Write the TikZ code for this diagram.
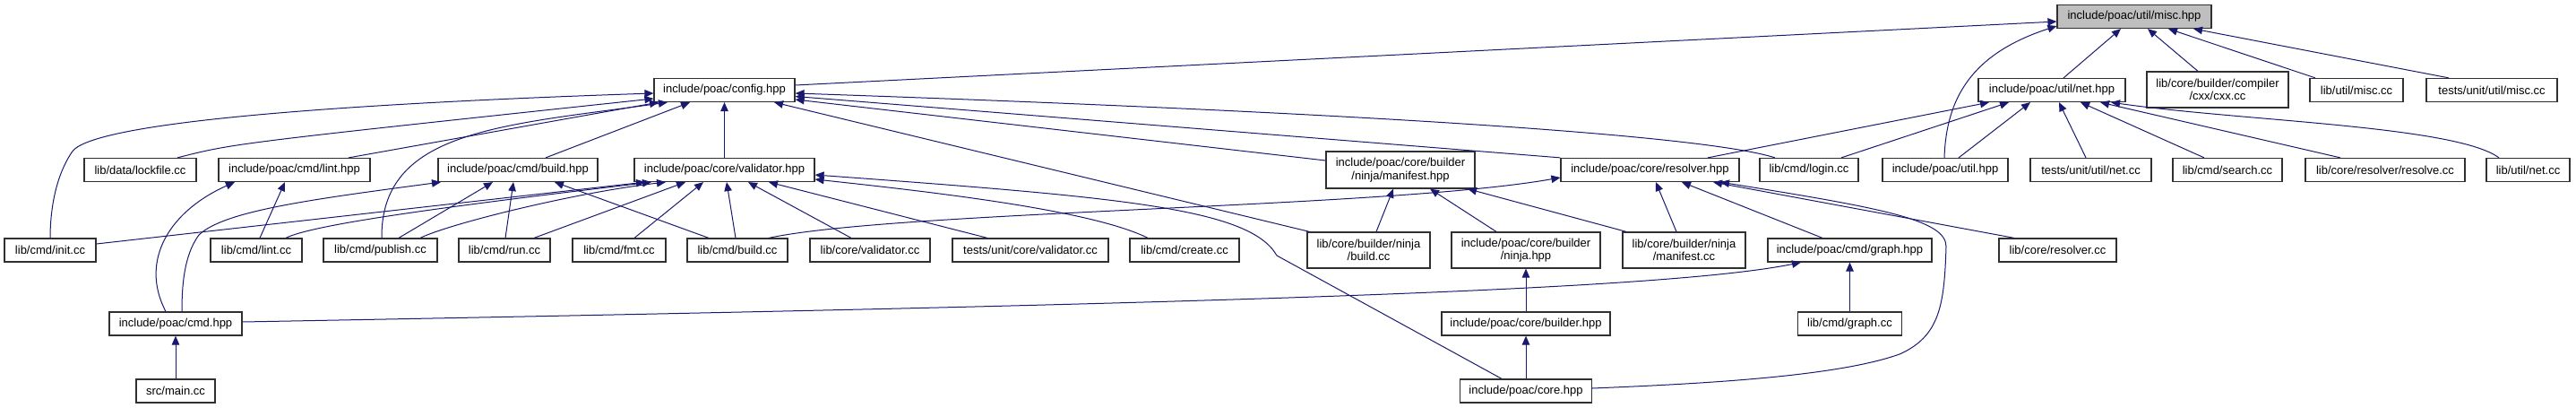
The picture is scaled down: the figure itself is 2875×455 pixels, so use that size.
\documentclass[tikz,border=0pt]{standalone}
\usepackage{fontspec}
\setmainfont{Liberation Sans}
\usetikzlibrary{arrows.meta,calc}
\definecolor{edgeblue}{HTML}{191970}
\definecolor{boxline}{HTML}{303030}
\definecolor{focusgray}{HTML}{BFBFBF}
\begin{document}
\begin{tikzpicture}[x=1pt,y=-1pt,
  box/.style={draw=boxline, line width=1.2pt, fill=white, inner sep=0pt, minimum height=26pt, align=center, font=\fontsize{13}{14.5}\selectfont},
  boxtwo/.style={box, minimum height=40pt},
  edge/.style={draw=edgeblue, line width=1pt, {Triangle[length=10pt,width=8.5pt]}-}]
\useasboundingbox (0,0) rectangle (2875,455);
% row A
\node[box, fill=focusgray, minimum width=172pt] (misc) at (2382,18.5) {include/poac/util/misc.hpp};
% row B
\node[box, minimum width=157pt] (config) at (808.5,100.5) {include/poac/config.hpp};
\node[box, minimum width=164pt] (net) at (2290,100.5) {include/poac/util/net.hpp};
\node[boxtwo, minimum width=158pt] (cxx) at (2475,100) {lib/core/builder/compiler\\/cxx/cxx.cc};
\node[box, minimum width=104pt] (utilmisc) at (2630,100.5) {lib/util/misc.cc};
\node[box, minimum width=146pt] (testmisc) at (2781,100.5) {tests/unit/util/misc.cc};
% row C
\node[box, minimum width=125pt] (lockfile) at (156.5,189.5) {lib/data/lockfile.cc};
\node[box, minimum width=169pt] (linthpp) at (328.5,189.5) {include/poac/cmd/lint.hpp};
\node[box, minimum width=178pt] (buildhpp) at (578,189.5) {include/poac/cmd/build.hpp};
\node[box, minimum width=201pt] (validatorhpp) at (808.5,189.5) {include/poac/core/validator.hpp};
\node[boxtwo, minimum width=166pt, minimum height=41pt] (manifesthpp) at (1563,189.5) {include/poac/core/builder\\/ninja/manifest.hpp};
\node[box, minimum width=199pt] (resolverhpp) at (1841.5,189.5) {include/poac/core/resolver.hpp};
\node[box, minimum width=110pt] (login) at (2019,189.5) {lib/cmd/login.cc};
\node[box, minimum width=140pt] (utilhpp) at (2171,189.5) {include/poac/util.hpp};
\node[box, minimum width=135pt] (testnet) at (2333.5,189.5) {tests/unit/util/net.cc};
\node[box, minimum width=122pt] (search) at (2486,189.5) {lib/cmd/search.cc};
\node[box, minimum width=178pt] (resolve) at (2662,189.5) {lib/core/resolver/resolve.cc};
\node[box, minimum width=93pt] (utilnet) at (2821.5,189.5) {lib/util/net.cc};
% row D
\node[box, minimum width=102pt] (init) at (56,279) {lib/cmd/init.cc};
\node[box, minimum width=102pt] (lintcc) at (286,279) {lib/cmd/lint.cc};
\node[box, minimum width=127pt] (publish) at (424.5,279) {lib/cmd/publish.cc};
\node[box, minimum width=102pt] (runcc) at (563,279) {lib/cmd/run.cc};
\node[box, minimum width=104pt] (fmtcc) at (691,279) {lib/cmd/fmt.cc};
\node[box, minimum width=112pt] (buildcc) at (823,279) {lib/cmd/build.cc};
\node[box, minimum width=134pt] (validatorcc) at (971,279) {lib/core/validator.cc};
\node[box, minimum width=174pt] (testvalidator) at (1150,279) {tests/unit/core/validator.cc};
\node[box, minimum width=122pt] (createcc) at (1322,279) {lib/cmd/create.cc};
\node[boxtwo, minimum width=137pt] (ninjabuildcc) at (1527.5,279) {lib/core/builder/ninja\\/build.cc};
\node[boxtwo, minimum width=166pt] (ninjahpp) at (1703,279) {include/poac/core/builder\\/ninja.hpp};
\node[boxtwo, minimum width=137pt] (ninjamanifestcc) at (1879.5,279) {lib/core/builder/ninja\\/manifest.cc};
\node[box, minimum width=183pt] (graphhpp) at (2064.5,279) {include/poac/cmd/graph.hpp};
\node[box, minimum width=131pt] (resolvercc) at (2296.5,279) {lib/core/resolver.cc};
% row E
\node[box, minimum width=148pt] (cmdhpp) at (196,361) {include/poac/cmd.hpp};
\node[box, minimum width=188pt] (builderhpp) at (1703,361) {include/poac/core/builder.hpp};
\node[box, minimum width=116pt] (graphcc) at (2064.5,361) {lib/cmd/graph.cc};
% row F
\node[box, minimum width=88pt] (maincc) at (196,436) {src/main.cc};
\node[box, minimum width=147pt] (corehpp) at (1703,436) {include/poac/core.hpp};

% edges into misc.hpp
\draw[edge] ([yshift=-5.5pt]misc.west) -- ([yshift=5.5pt]config.east);
\draw[edge] ([xshift=-15pt]misc.south) -- ([xshift=13pt]net.north);
\draw[edge] ([yshift=-10.5pt]misc.west) .. controls (2200,60) and (2172,110) .. ([xshift=-1pt]utilhpp.north);
\draw[edge] ([xshift=15pt]misc.south) -- ([xshift=-22pt]cxx.north);
\draw[edge] ([xshift=38pt]misc.south) -- ([xshift=-46pt]utilmisc.north);
\draw[edge] ([xshift=66pt]misc.south) -- ([xshift=-48pt]testmisc.north);

% edges into config.hpp
\draw[edge] ([yshift=-3.5pt]config.west) .. controls (400,115) and (100,135) .. (80,170) .. controls (60,200) and (56,240) .. (init.north);
\draw[edge] ([yshift=-9.5pt]config.west) .. controls (260,160) .. ([xshift=41.5pt]lockfile.north);
\draw[edge] ([xshift=-73.5pt]config.south) -- ([xshift=60.5pt]linthpp.north);
\draw[edge] ([xshift=-63.5pt]config.south) .. controls (560,140) and (425,145) .. ([xshift=1.5pt]publish.north);
\draw[edge] ([xshift=-38.5pt]config.south) -- ([xshift=31pt]buildhpp.north);
\draw[edge] (config.south) -- (validatorhpp.north);
\draw[edge] ([xshift=55.5pt]config.south) -- ([xshift=-66pt]ninjabuildcc.north);
\draw[edge] ([yshift=-10.5pt]config.east) -- ([yshift=10.5pt]manifesthpp.west);
\draw[edge] ([yshift=-7pt]config.east) -- (resolverhpp.north west);
\draw[edge] ([yshift=-3.5pt]config.east) .. controls (1500,125) and (1900,150) .. ([xshift=-38pt]login.north);

% edges into util/net.hpp
\draw[edge] ([xshift=-70pt]net.south) -- ([xshift=64.5pt]resolverhpp.north);
\draw[edge] ([xshift=-48pt]net.south) -- ([xshift=36pt]login.north);
\draw[edge] ([xshift=-24pt]net.south) -- ([xshift=15pt]utilhpp.north);
\draw[edge] ([xshift=8pt]net.south) -- ([xshift=-5.5pt]testnet.north);
\draw[edge] ([xshift=32pt]net.south) -- ([xshift=-26pt]search.north);
\draw[edge] ([xshift=54pt]net.south) -- ([xshift=-50pt]resolve.north);
\draw[edge] ([xshift=66pt]net.south) .. controls (2500,135) and (2740,140) .. ([xshift=-32.5pt]utilnet.north);

% edges into cmd/lint.hpp
\draw[edge] ([xshift=-66.5pt]linthpp.south) .. controls (190,235) and (155,290) .. ([xshift=-11pt]cmdhpp.north);
\draw[edge] ([xshift=-10.5pt]linthpp.south) -- ([xshift=4pt]lintcc.north);

% edges into cmd/build.hpp
\draw[edge] ([xshift=-86pt]buildhpp.south) .. controls (350,222) and (250,235) .. (222,262) .. controls (205,285) and (203,320) .. ([xshift=7pt]cmdhpp.north);
\draw[edge] ([xshift=-28pt]buildhpp.south) -- ([xshift=20.5pt]publish.north);
\draw[edge] ([xshift=-5pt]buildhpp.south) -- ([xshift=1pt]runcc.north);
\draw[edge] ([xshift=41pt]buildhpp.south) -- ([xshift=-32pt]buildcc.north);

% edges into core/validator.hpp
\draw[edge] ([xshift=-88.5pt]validatorhpp.south) -- ([yshift=7pt]init.east);
\draw[edge] ([xshift=-81.5pt]validatorhpp.south) .. controls (500,230) and (350,250) .. ([xshift=33pt]lintcc.north);
\draw[edge] ([xshift=-65.5pt]validatorhpp.south) .. controls (640,215) and (500,250) .. ([xshift=44.5pt]publish.north);
\draw[edge] ([xshift=-43.5pt]validatorhpp.south) -- ([xshift=33pt]runcc.north);
\draw[edge] ([xshift=-23.5pt]validatorhpp.south) -- ([xshift=17pt]fmtcc.north);
\draw[edge] ([xshift=2.5pt]validatorhpp.south) -- ([xshift=-2pt]buildcc.north);
\draw[edge] ([xshift=26.5pt]validatorhpp.south) -- ([xshift=-21pt]validatorcc.north);
\draw[edge] ([xshift=49.5pt]validatorhpp.south) -- ([xshift=-48pt]testvalidator.north);
\draw[edge] ([yshift=-10.5pt]validatorhpp.east) .. controls (1050,215) and (1220,235) .. ([xshift=-41pt]createcc.north);
\draw[edge] ([yshift=-5.5pt]validatorhpp.east) .. controls (1250,220) and (1395,232) .. (1425,285) -- ([xshift=-27pt]corehpp.north);

% edges into core/builder/ninja/manifest.hpp
\draw[edge] ([xshift=-8pt]manifesthpp.south) -- ([xshift=8.5pt]ninjabuildcc.north);
\draw[edge] ([xshift=33pt]manifesthpp.south) -- ([xshift=-33pt]ninjahpp.north);
\draw[edge] ([xshift=75pt]manifesthpp.south) -- ([xshift=-64.5pt]ninjamanifestcc.north);

% edges into core/resolver.hpp
\draw[edge] ([yshift=-8.5pt]resolverhpp.west) .. controls (1550,232) and (1000,235) .. ([xshift=35pt]buildcc.north);
\draw[edge] ([xshift=6.5pt]resolverhpp.south) -- ([xshift=-8.5pt]ninjamanifestcc.north);
\draw[edge] ([xshift=35.5pt]resolverhpp.south) -- ([xshift=-30.5pt]graphhpp.north);
\draw[edge] ([xshift=70.5pt]resolverhpp.south) -- ([xshift=-48.5pt]resolvercc.north);
\draw[edge] ([xshift=78.5pt]resolverhpp.south) .. controls (2100,232) and (2172,245) .. (2172,275) .. controls (2170,340) and (2165,375) .. (2120,395) .. controls (2050,420) and (1900,428) .. ([yshift=3pt]corehpp.east);

% remaining edges
\draw[edge] ([xshift=-54.5pt]graphhpp.south) .. controls (1850,325) and (1300,340) .. ([yshift=2pt]cmdhpp.east);
\draw[edge] (graphhpp.south) -- (graphcc.north);
\draw[edge] (ninjahpp.south) -- (builderhpp.north);
\draw[edge] (builderhpp.south) -- (corehpp.north);
\draw[edge] (cmdhpp.south) -- (maincc.north);
\end{tikzpicture}
\end{document}
